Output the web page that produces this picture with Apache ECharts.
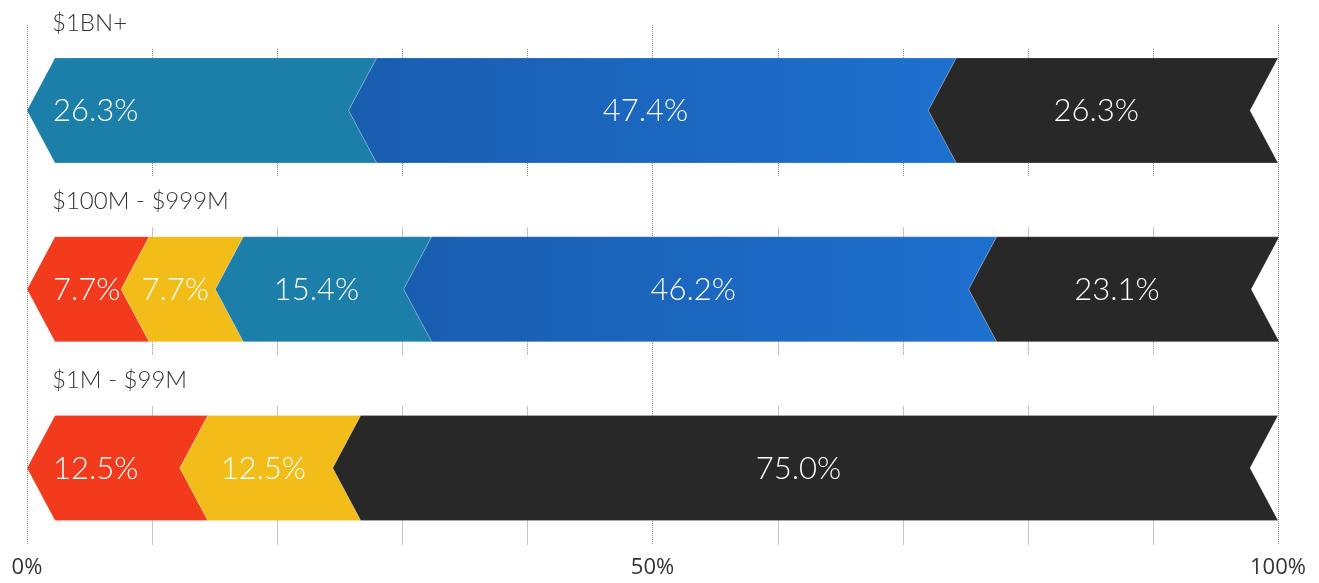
<!DOCTYPE html>
<html>
<head>
<meta charset="utf-8">
<script src="https://cdn.jsdelivr.net/npm/echarts@6/dist/echarts.min.js"></script>
<style>
  html, body { margin: 0; padding: 0; background: #ffffff; }
  #chart { width: 1319px; height: 583px; }
</style>
</head>
<body>
<div id="chart"></div>
<script>
// Revenue bands, top to bottom
const categories = ['$1BN+', '$100M - $999M', '$1M - $99M'];

// Share of each band (%), one array per segment colour, stacked left to right
const redShare    = [0, 7.7, 12.5];
const yellowShare = [0, 7.7, 12.5];
const tealShare   = [26.3, 15.4, 0];
const blueShare   = [47.4, 46.2, 0];
const blackShare  = [26.3, 23.1, 75.0];

// Axis ticks
const axisTicks = [0, 50, 100];
const minorTicks = [10, 20, 30, 40, 60, 70, 80, 90];

const segments = [
  { name: 'red',    values: redShare,    color: '#f23a1c' },
  { name: 'yellow', values: yellowShare, color: '#f2bd19' },
  { name: 'teal',   values: tealShare,   color: '#1b7fa9' },
  { name: 'blue',   values: blueShare,
    color: new echarts.graphic.LinearGradient(0, 0, 1, 0, [
      { offset: 0, color: '#195daf' },
      { offset: 1, color: '#1e70cf' }
    ]) },
  { name: 'black',  values: blackShare,  color: '#282828' }
];

const BAR_H = 105;     // bar thickness in px
const NOTCH = 28;      // chevron depth in px
const LABEL_FONT = 'Lato, "Open Sans", sans-serif';

// running totals give each segment its start/end on the percent scale
const running = categories.map(() => 0);
const segmentData = segments.map(seg => categories.map((c, row) => {
  const start = running[row];
  const end = start + seg.values[row];
  running[row] = end;
  return [row, start, end, seg.values[row]];
}));

function chevronX(api, v, row) {
  const x0 = api.coord([0, row])[0];
  const x100 = api.coord([100, row])[0];
  const w = x100 - x0;
  const xv = api.coord([v, row])[0];
  return x0 + (xv - x0) * (w - NOTCH) / w;
}

function renderSegment(params, api) {
  const row = api.value(0), a = api.value(1), b = api.value(2), val = api.value(3);
  if (!(b > a)) return null;
  const cy = api.coord([a, row])[1];
  const top = cy - BAR_H / 2, bottom = cy + BAR_H / 2;
  const xa = chevronX(api, a, row);
  const xb = chevronX(api, b, row);
  const shape = {
    points: [
      [xa + NOTCH, top], [xb + NOTCH, top], [xb, cy],
      [xb + NOTCH, bottom], [xa + NOTCH, bottom], [xa, cy]
    ]
  };
  const first = a === 0;
  return {
    type: 'group',
    children: [
      {
        type: 'polygon',
        shape: shape,
        style: { fill: api.visual('color'), stroke: 'rgba(255,255,255,0.35)', lineWidth: 0.6 }
      },
      {
        type: 'text',
        x: first ? xa + NOTCH - 2 : (xa + xb) / 2 + 7,
        y: cy + 1,
        style: {
          text: val.toFixed(1) + '%',
          fill: '#ffffff',
          font: '300 31px ' + LABEL_FONT,
          align: first ? 'left' : 'center',
          verticalAlign: 'middle'
        }
      }
    ]
  };
}

function renderRow(params, api) {
  const row = api.value(0);
  const cy = api.coord([0, row])[1];
  const top = cy - BAR_H / 2, bottom = cy + BAR_H / 2;
  const sys = params.coordSys;
  const gridBottom = sys.y + sys.height;
  const last = row === categories.length - 1;
  const children = [];
  minorTicks.forEach(v => {
    const x = Math.round(api.coord([v, row])[0]) + 0.5;
    children.push({
      type: 'line',
      shape: { x1: x, y1: top - 9, x2: x, y2: top },
      style: { stroke: '#8a8a8a', lineWidth: 1, lineDash: [1, 1] }
    });
    children.push({
      type: 'line',
      shape: { x1: x, y1: bottom, x2: x, y2: last ? gridBottom : bottom + 13 },
      style: { stroke: '#8a8a8a', lineWidth: 1, lineDash: [1, 1] }
    });
  });
  children.push({
    type: 'text',
    x: api.coord([0, row])[0] + 25,
    y: top - 35,
    style: {
      text: categories[row],
      fill: '#333333',
      font: '300 24px ' + LABEL_FONT,
      align: 'left',
      verticalAlign: 'middle'
    }
  });
  return { type: 'group', children: children };
}

const chart = echarts.init(document.getElementById('chart'), null, { renderer: 'canvas' });

const series = [{
  type: 'custom',
  name: 'rows',
  renderItem: renderRow,
  data: categories.map((c, i) => [i]),
  encode: { y: 0 },
  z: 1,
  silent: true
}].concat(segments.map((seg, i) => ({
  type: 'custom',
  name: seg.name,
  renderItem: renderSegment,
  itemStyle: { color: seg.color },
  data: segmentData[i],
  encode: { x: [1, 2], y: 0 },
  z: 2,
  silent: true
})));

chart.setOption({
  animation: false,
  backgroundColor: '#ffffff',
  grid: { left: 27, right: 41, top: 25, bottom: 38 },
  xAxis: {
    type: 'value',
    min: axisTicks[0],
    max: axisTicks[axisTicks.length - 1],
    interval: axisTicks[1] - axisTicks[0],
    axisLine: { show: false },
    axisTick: { show: false },
    axisLabel: {
      formatter: v => v + '%',
      color: '#333333',
      fontSize: 22,
      fontFamily: '"Open Sans", "Noto Sans", sans-serif',
      margin: 12
    },
    splitLine: {
      show: true,
      lineStyle: { color: '#8a8a8a', width: 1, type: [1, 1] }
    }
  },
  yAxis: {
    type: 'value',
    min: -0.478,
    max: 2.431,
    inverse: true,
    show: false
  },
  series: series
});
</script>
</body>
</html>
